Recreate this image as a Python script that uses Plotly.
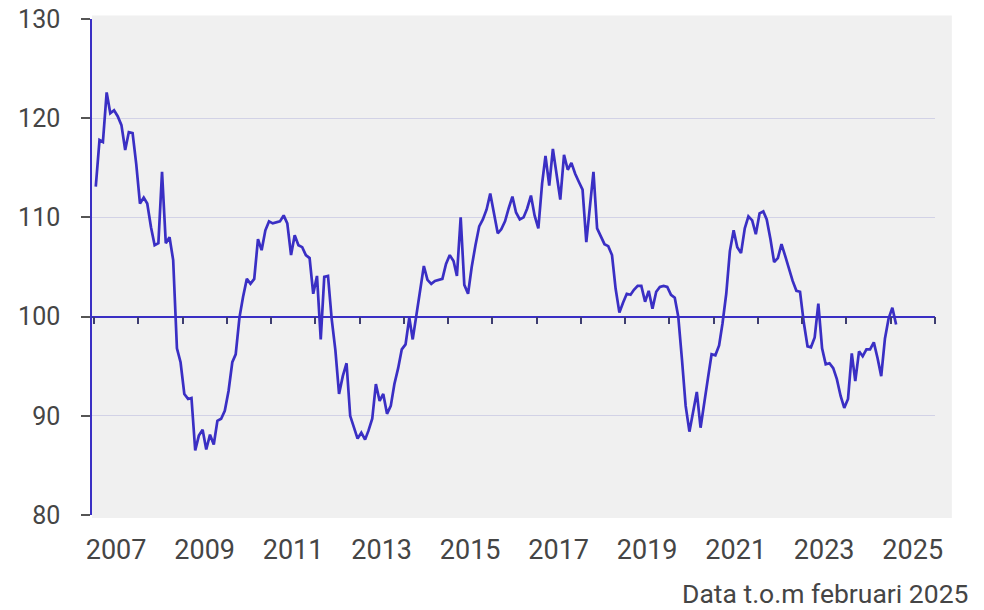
import plotly.graph_objects as go
import pandas as pd

# Monthly index values (Jan 2007 - Feb 2025)
v2007 = [113.1, 117.8, 117.6, 122.6, 120.5, 120.8, 120.2, 119.3, 116.8, 118.6, 118.5, 115.4]
v2008 = [111.4, 112.0, 111.4, 109.0, 107.2, 107.4, 114.6, 107.4, 108.0, 105.7, 96.8, 95.4]
v2009 = [92.2, 91.7, 91.8, 86.5, 88.0, 88.6, 86.6, 88.1, 87.1, 89.5, 89.7, 90.5]
v2010 = [92.5, 95.4, 96.2, 99.9, 102.0, 103.8, 103.3, 103.8, 107.8, 106.7, 108.7, 109.6]
v2011 = [109.4, 109.5, 109.6, 110.2, 109.4, 106.2, 108.2, 107.2, 107.0, 106.2, 105.9, 102.3]
v2012 = [104.1, 97.7, 104.0, 104.1, 99.8, 96.6, 92.2, 94.0, 95.3, 90.0, 88.8, 87.7]
v2013 = [88.3, 87.6, 88.5, 89.7, 93.2, 91.5, 92.2, 90.2, 91.0, 93.2, 94.8, 96.7]
v2014 = [97.2, 99.9, 97.7, 100.1, 102.4, 105.1, 103.7, 103.3, 103.6, 103.7, 103.8, 105.3]
v2015 = [106.2, 105.6, 104.1, 110.0, 103.2, 102.3, 105.0, 107.2, 109.1, 109.8, 110.8, 112.4]
v2016 = [110.2, 108.4, 108.8, 109.6, 110.9, 112.1, 110.5, 109.8, 110.0, 110.9, 112.2, 110.2]
v2017 = [108.9, 113.4, 116.2, 113.2, 116.9, 114.5, 111.8, 116.3, 114.8, 115.5, 114.4, 113.6]
v2018 = [112.8, 107.5, 110.8, 114.6, 108.9, 108.0, 107.3, 107.1, 106.2, 102.8, 100.4, 101.4]
v2019 = [102.3, 102.2, 102.7, 103.1, 103.1, 101.5, 102.6, 100.8, 102.5, 103.0, 103.1, 103.0]
v2020 = [102.2, 101.9, 100.0, 95.6, 91.0, 88.4, 90.5, 92.4, 88.8, 91.5, 93.8, 96.2]
v2021 = [96.1, 97.1, 99.3, 102.3, 106.6, 108.7, 107.0, 106.4, 108.9, 110.1, 109.7, 108.3]
v2022 = [110.4, 110.6, 109.8, 107.8, 105.5, 105.9, 107.3, 106.1, 104.7, 103.6, 102.6, 102.5]
v2023 = [99.4, 97.0, 96.9, 97.9, 101.3, 96.8, 95.2, 95.3, 94.8, 93.7, 92.0, 90.8]
v2024 = [91.7, 96.3, 93.5, 96.5, 96.0, 96.7, 96.7, 97.4, 95.8, 94.0, 97.8, 99.8]
v2025 = [100.9, 99.2]

label_years = [2007, 2009, 2011, 2013, 2015, 2017, 2019, 2021, 2023, 2025]
y_ticks = [80, 90, 100, 110, 120, 130]
note_text = "Data t.o.m februari 2025"

values = (v2007 + v2008 + v2009 + v2010 + v2011 + v2012 + v2013 + v2014 + v2015
          + v2016 + v2017 + v2018 + v2019 + v2020 + v2021 + v2022 + v2023 + v2024 + v2025)
dates = pd.date_range("2007-01-01", periods=len(values), freq="MS") + pd.Timedelta(days=14)

LINE = "#3a2fc4"
TXT = "#454545"
FONT = "Roboto"
XR = ["2006-12-15", "2026-01-02"]

fig = go.Figure()
fig.add_trace(go.Scatter(x=dates, y=values, mode="lines",
                         line=dict(color=LINE, width=2.7), showlegend=False,
                         hoverinfo="x+y"))
# helper trace so the reference-line axis (at 100) is drawn
fig.add_trace(go.Scatter(x=[dates[0]], y=[None], xaxis="x2", mode="lines",
                         showlegend=False, hoverinfo="skip"))

# slightly larger grey panel behind the plot area
fig.add_shape(type="rect", xref="paper", yref="paper", x0=0, x1=1.02, y0=-0.006, y1=1.007,
              fillcolor="#f0f0f0", line=dict(width=0), layer="below")

fig.update_layout(
    width=984, height=610, autosize=False,
    margin=dict(l=92, r=49, t=19, b=95, autoexpand=False),
    paper_bgcolor="white", plot_bgcolor="#f0f0f0",
    font=dict(family=FONT, color=TXT),
    xaxis=dict(type="date", range=XR, showgrid=False, zeroline=False, showline=False,
               automargin=False,
               tickmode="array", tickvals=[f"{y}-07-02" for y in label_years],
               ticktext=[str(y) for y in label_years], ticks="",
               tickfont=dict(size=27, color=TXT, family=FONT), ticklabelstandoff=16),
    xaxis2=dict(type="date", range=XR, overlaying="x", anchor="free", position=0.4,
                side="bottom", showgrid=False, zeroline=False, showline=True,
                automargin=False,
                linecolor=LINE, linewidth=1.5, ticks="outside", ticklen=7,
                tickwidth=1.5, tickcolor="#3d3d70", tick0="2007-01-01", dtick="M12",
                showticklabels=False),
    yaxis=dict(range=[80, 130], tickmode="array", tickvals=y_ticks, automargin=False,
               showgrid=True, gridcolor="#d2d2e6", gridwidth=1, zeroline=False,
               showline=True, linecolor=LINE, linewidth=1.5,
               ticks="outside", ticklen=9, tickwidth=1.5, tickcolor="#555555",
               tickfont=dict(size=25, color=TXT, family=FONT), ticklabelstandoff=16),
    annotations=[dict(text=note_text, xref="paper", yref="paper", x=1.0415, y=-0.158,
                      xanchor="right", yanchor="middle", showarrow=False,
                      font=dict(size=26.5, color=TXT, family=FONT))],
)

fig.write_html("out.html", config={"displayModeBar": False},
               post_script="document.body.style.margin='0';document.body.style.overflow='hidden';")
